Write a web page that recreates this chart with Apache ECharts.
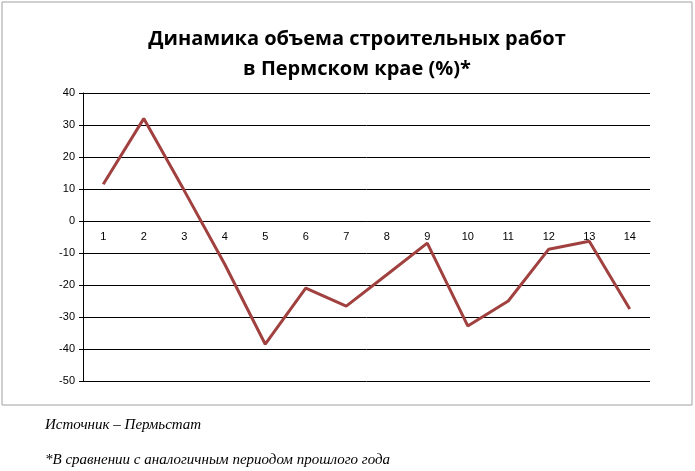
<!DOCTYPE html>
<html><head><meta charset="utf-8">
<script src="https://cdn.jsdelivr.net/npm/echarts@6/dist/echarts.min.js"></script>
<style>body{margin:0;background:#fff}#c{width:695px;height:471px}</style>
</head><body><div id="c"></div>
<script>
const categories = ['1','2','3','4','5','6','7','8','9','10','11','12','13','14'];
const values = [11.5, 32, 9.5, -13.5, -38.5, -21, -26.6, -16.8, -6.9, -32.8, -25, -8.8, -6.3, -27.5];
const yTicks = {min: -50, max: 40, interval: 10};
const chart = echarts.init(document.getElementById('c'));
chart.setOption({
  animation: false,
  graphic: [
    {type:'rect', shape:{x:2,y:2,width:690,height:403}, style:{fill:'none', stroke:'#a0a0a0', lineWidth:1}},
    {type:'text', left:45, top:418, style:{text:'Источник – Пермьстат', font:'italic 15px "Liberation Serif"', fill:'#000'}},
    {type:'text', left:45, top:453, style:{text:'*В сравнении с аналогичным периодом прошлого года', font:'italic 15px "Liberation Serif"', fill:'#000'}}
  ],
  title: {text:'Динамика объема строительных работ\nв Пермском крае (%)*', left:352, top:19, textAlign:'center',
    textStyle:{fontFamily:'"Open Sans", "DejaVu Sans"', fontSize:20, fontWeight:'bold', color:'#000', lineHeight:30}},
  grid: {left:83, right:45, top:93, bottom:90},
  xAxis: {type:'category', data:categories, boundaryGap:true, offset:-160,
    axisLine:{onZero:false, lineStyle:{color:'#000'}}, axisTick:{show:false},
    axisLabel:{color:'#000', fontSize:11, fontFamily:'"Liberation Sans"', margin:10}},
  yAxis: {type:'value', min:yTicks.min, max:yTicks.max, interval:yTicks.interval,
    axisLine:{show:true, lineStyle:{color:'#000'}}, axisTick:{show:true, length:4, lineStyle:{color:'#000'}},
    splitLine:{lineStyle:{color:'#000'}},
    axisLabel:{color:'#000', fontSize:11, fontFamily:'"Liberation Sans"'}},
  series: [{type:'line', data:values, symbol:'none', lineStyle:{color:'#a0413f', width:3}}]
});
</script></body></html>
